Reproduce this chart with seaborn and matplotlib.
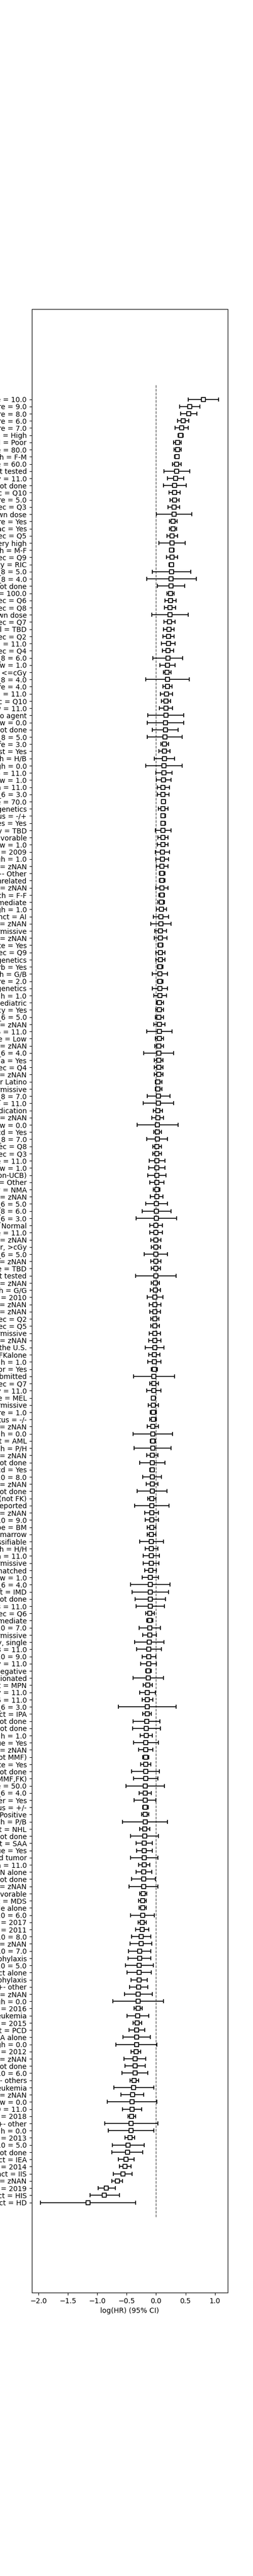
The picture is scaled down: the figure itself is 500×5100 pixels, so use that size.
import numpy as np
import pandas as pd
import matplotlib
matplotlib.use("Agg")
import matplotlib.pyplot as plt
import seaborn as sns

# Cox model coefficients, listed top to bottom as they appear in the chart
labels = [
    "comorbidity_score = 10.0", "comorbidity_score = 9.0", "comorbidity_score = 8.0",
    "comorbidity_score = 6.0", "comorbidity_score = 7.0", "dri_score = High",
    "cyto_score_detail = Poor", "karnofsky_score = 80.0", "sex_match = F-M",
    "karnofsky_score = 60.0", "cyto_score = Not tested", "hla_match_any = 11.0",
    "diabetes = Not done", "age_at_hct_dec = Q10",
    # ---
    "comorbidity_score = 5.0", "donor_age_dec = Q3", "tbi_status = TBI +- Other, -cGy, unknown dose",
    "pulm_severe = Yes", "cardiac = Yes", "donor_age_dec = Q5", "dri_score = Very high",
    "sex_match = M-F", "donor_age_dec = Q9", "conditioning_intensity = RIC",
    "hla_high_res_8 = 5.0", "hla_low_res_8 = 4.0", "arrhythmia = Not done",
    "karnofsky_score = 100.0", "donor_age_dec = Q6", "donor_age_dec = Q8",
    "tbi_status = TBI +- Other, unknown dose", "donor_age_dec = Q7", "cyto_score_detail = TBD",
    "donor_age_dec = Q2", "hla_match_c_high = 11.0", "donor_age_dec = Q4",
    "hla_high_res_8 = 6.0", "hla_match_c_low = 1.0", "tbi_status = TBI +- Other, <=cGy",
    "hla_high_res_8 = 4.0",
    # ---
    "comorbidity_score = 4.0", "hla_match_a_high = 11.0", "donor_age_dec = Q10",
    "hla_match_b_low = 11.0", "gvhd_proph = Parent Q = yes, but no agent", "hla_match_a_low = 0.0",
    "pulm_severe = Not done", "hla_low_res_8 = 5.0", "comorbidity_score = 3.0",
    "vent_hist = Yes", "tce_imm_match = H/B", "hla_match_dqb1_high = 0.0",
    "hla_nmdp_6 = 11.0", "hla_match_drb1_low = 1.0", "hla_match_drb1_high = 11.0",
    "hla_low_res_6 = 3.0", "karnofsky_score = 70.0", "dri_score = TBD cytogenetics",
    "cmv_status = -/+", "diabetes = Yes", "conditioning_intensity = TBD",
    "cyto_score = Favorable", "hla_match_dqb1_low = 1.0", "year_hct = 2009",
    "hla_match_b_high = 1.0", "cyto_score = zNAN",
    # ---
    "tbi_status = TBI + Cy +- Other", "donor_related = Unrelated", "hla_high_res_10 = zNAN",
    "sex_match = F-F", "cyto_score_detail = Intermediate", "hla_match_drb1_high = 1.0",
    "prim_disease_hct = AI", "tce_match = zNAN", "tce_match = GvH non-permissive",
    "hla_low_res_8 = zNAN", "hepatic_moderate = Yes", "age_at_hct_dec = Q9",
    "dri_score = High - TED AML case <missing cytogenetics", "psych_disturb = Yes",
    "tce_imm_match = G/B", "comorbidity_score = 2.0",
    "dri_score = Intermediate - TED AML case <missing cytogenetics", "hla_match_dqb1_high = 1.0",
    "dri_score = N/A - pediatric", "pregnancy = Yes", "hla_low_res_6 = 5.0",
    "hla_low_res_6 = zNAN", "hla_high_res_6 = 11.0", "dri_score = Low",
    "hla_nmdp_6 = zNAN", "hla_high_res_6 = 4.0",
    # ---
    "arrhythmia = Yes", "age_at_hct_dec = Q4", "tce_imm_match = zNAN",
    "ethnicity = Hispanic or Latino", "tce_div_match = HvG non-permissive", "hla_high_res_8 = 7.0",
    "hla_nmdp_6 = 11.0", "dri_score = N/A - non-malignant indication", "cmv_status = zNAN",
    "hla_match_c_low = 0.0", "in_vivo_tcd = Yes", "hla_low_res_8 = 7.0",
    "age_at_hct_dec = Q8", "age_at_hct_dec = Q3", "hla_score = 11.0",
    "hla_match_a_low = 1.0", "donor_related = Multiple donor (non-UCB)", "cyto_score = Other",
    "conditioning_intensity = NMA", "hla_match_c_high = zNAN", "hla_nmdp_6 = 5.0",
    "hla_low_res_8 = 6.0", "hla_nmdp_6 = 3.0", "cyto_score = Normal",
    "comorbidity_score = 11.0", "hla_match_a_high = zNAN",
    # ---
    "tbi_status = TBI +- Other, >cGy", "hla_high_res_6 = 5.0", "hla_match_b_high = zNAN",
    "cyto_score = TBD", "cyto_score_detail = Not tested", "hla_match_b_low = zNAN",
    "tce_imm_match = G/G", "year_hct = 2010", "hla_match_drb1_low = zNAN",
    "hla_match_dqb1_low = zNAN", "age_at_hct_dec = Q2", "age_at_hct_dec = Q5",
    "tce_div_match = GvH non-permissive", "hla_match_drb1_high = zNAN",
    "ethnicity = Non-resident of the U.S.", "gvhd_proph = FKalone", "hla_match_a_high = 1.0",
    "prior_tumor = Yes", "conditioning_intensity = N/A, F(pre-TED) not submitted",
    "age_at_hct_dec = Q7", "hla_match_any = 11.0", "melphalan_dose = MEL",
    "tce_div_match = Bi-directional non-permissive", "comorbidity_score = 1.0",
    "cmv_status = -/-", "hla_match_c_low = zNAN",
    # ---
    "hla_match_c_high = 0.0", "prim_disease_hct = AML", "tce_imm_match = P/H",
    "hla_match_a_low = zNAN", "cardiac = Not done", "graft_tcd = Yes",
    "hla_high_res_10 = 8.0", "hla_low_res_10 = zNAN", "renal_issue = Not done",
    "gvhd_proph = CSA + MMF +- others(not FK)", "conditioning_intensity = No drugs reported",
    "hla_high_res_6 = zNAN", "hla_low_res_10 = 9.0", "prod_type = BM",
    "graft_type = Bone marrow", "dri_score = N/A - disease not classifiable",
    "tce_imm_match = H/H", "hla_match_dqb1_high = 11.0", "tce_match = HvG non-permissive",
    "tce_match = Fully matched", "hla_match_b_low = 1.0", "hla_low_res_6 = 4.0",
    "prim_disease_hct = IMD", "hepatic_mild = Not done", "hla_high_res_8 = 11.0",
    "age_at_hct_dec = Q6",
    # ---
    "cyto_score = Intermediate", "hla_high_res_10 = 7.0", "tce_div_match = HvG non-permissive",
    "tbi_status = TBI +- Other, -cGy, single", "hla_low_res_8 = 11.0", "hla_high_res_10 = 9.0",
    "hla_match_qty = 11.0", "mrd_hct = Negative", "tbi_status = TBI +- Other, -cGy, fractionated",
    "prim_disease_hct = MPN", "hla_match_any = 11.0", "hla_low_res_6 = 11.0",
    "hla_high_res_6 = 3.0", "prim_disease_hct = IPA", "obesity = Not done",
    "psych_disturb = Not done", "hla_match_c_high = 1.0", "renal_issue = Yes",
    "race_group = zNAN", "gvhd_proph = FK+ MTX +- others(not MMF)", "pulm_moderate = Yes",
    "prior_tumor = Not done", "gvhd_proph = CSA + MTX +- others(not MMF,FK)",
    "karnofsky_score = 50.0", "hla_nmdp_6 = 4.0", "peptic_ulcer = Yes",
    # ---
    "cmv_status = +/-", "mrd_hct = Positive", "tce_imm_match = P/B",
    "prim_disease_hct = NHL", "rheum_issue = Not done", "prim_disease_hct = SAA",
    "rheum_issue = Yes", "prim_disease_hct = Solid tumor", "donor_age_bin = 11.0",
    "gvhd_proph = TDEPLETION alone", "hepatic_severe = Not done", "hla_high_res_8 = zNAN",
    "cyto_score_detail = Favorable", "prim_disease_hct = MDS", "gvhd_proph = Cyclophosphamide alone",
    "hla_high_res_10 = 6.0", "year_hct = 2017", "year_hct = 2011",
    "hla_low_res_10 = 8.0", "donor_age_dec = zNAN", "hla_low_res_10 = 7.0",
    "gvhd_proph = No GvHD Prophylaxis", "hla_high_res_10 = 5.0", "gvhd_proph = CDselect alone",
    "gvhd_proph = Other GVHD Prophylaxis", "gvhd_proph = TDEPLETION +- other",
    # ---
    "age_at_hct_dec = zNAN", "hla_match_b_high = 0.0", "year_hct = 2016",
    "prim_disease_hct = Other leukemia", "year_hct = 2015", "prim_disease_hct = PCD",
    "gvhd_proph = CSA alone", "hla_match_drb1_high = 0.0", "year_hct = 2012",
    "tce_div_match = zNAN", "peptic_ulcer = Not done", "hla_low_res_10 = 6.0",
    "gvhd_proph = Cyclophosphamide +- others", "prim_disease_hct = Other acute leukemia",
    "tce_div = zNAN", "hla_match_b_low = 0.0", "hla_low_res_10 = 11.0",
    "year_hct = 2018", "gvhd_proph = CDselect +- other", "hla_match_a_high = 0.0",
    "year_hct = 2013", "hla_low_res_10 = 5.0", "diabetes_hx = Not done",
    "prim_disease_hct = IEA", "year_hct = 2014", "prim_disease_hct = IIS",
    # ---
    "donor_age_dec = zNAN", "year_hct = 2019", "prim_disease_hct = HIS", "prim_disease_hct = HD",
]

coef = [
    0.806, 0.574, 0.553, 0.462, 0.433, 0.416, 0.364, 0.367, 0.356, 0.353, 0.347, 0.330, 0.315, 0.313,
    0.313, 0.304, 0.304, 0.290, 0.287, 0.270, 0.270, 0.267, 0.270, 0.261, 0.261, 0.258, 0.252, 0.244,
    0.244, 0.235, 0.235, 0.227, 0.221, 0.212, 0.209, 0.201, 0.201, 0.195, 0.189, 0.192,
    0.192, 0.175, 0.166, 0.166, 0.166, 0.158, 0.158, 0.149, 0.141, 0.141, 0.141, 0.132, 0.132, 0.123,
    0.120, 0.120, 0.123, 0.115, 0.115, 0.115, 0.115, 0.112, 0.112, 0.106, 0.106, 0.103,
    0.103, 0.103, 0.098, 0.098, 0.089, 0.089, 0.080, 0.080, 0.072, 0.072, 0.072, 0.069, 0.069, 0.063,
    0.063, 0.063, 0.063, 0.063, 0.054, 0.054, 0.049, 0.054, 0.054, 0.052, 0.046, 0.046,
    0.046, 0.046, 0.046, 0.034, 0.034, 0.037, 0.037, 0.029, 0.029, 0.020, 0.020, 0.020, 0.017, 0.017,
    0.011, 0.011, 0.011, 0.011, 0.011, 0.011, 0.003, 0.003, 0.003, -0.006, -0.006, -0.006,
    -0.006, -0.006, -0.006, -0.006, -0.006, -0.014, -0.014, -0.023, -0.023, -0.023, -0.023, -0.023,
    -0.023, -0.023, -0.023, -0.032, -0.032, -0.032, -0.040, -0.040, -0.040, -0.049, -0.049, -0.049,
    -0.049, -0.057,
    -0.057, -0.057, -0.057, -0.066, -0.066, -0.066, -0.066, -0.066, -0.066, -0.075, -0.075, -0.075,
    -0.075, -0.075, -0.083, -0.083, -0.083, -0.083, -0.083, -0.092, -0.100, -0.100, -0.100, -0.100,
    -0.100, -0.109,
    -0.109, -0.109, -0.109, -0.118, -0.126, -0.126, -0.126, -0.135, -0.135, -0.143, -0.152, -0.152,
    -0.152, -0.152, -0.161, -0.169, -0.169, -0.178, -0.178, -0.178, -0.178, -0.178, -0.178, -0.186,
    -0.186, -0.186,
    -0.186, -0.186, -0.186, -0.195, -0.195, -0.204, -0.204, -0.204, -0.204, -0.212, -0.212, -0.212,
    -0.221, -0.229, -0.229, -0.229, -0.238, -0.238, -0.255, -0.255, -0.281, -0.281, -0.290, -0.290,
    -0.290, -0.298,
    -0.307, -0.307, -0.307, -0.315, -0.324, -0.333, -0.333, -0.333, -0.341, -0.358, -0.358, -0.358,
    -0.376, -0.384, -0.401, -0.410, -0.410, -0.419, -0.427, -0.427, -0.445, -0.479, -0.488, -0.513,
    -0.531, -0.565,
    -0.660, -0.849, -0.880, -1.159,
]

lower = [
    0.545, 0.399, 0.419, 0.364, 0.321, 0.373, 0.295, 0.304, 0.318, 0.278, 0.132, 0.192, 0.123, 0.218,
    0.235, 0.206, 0.006, 0.227, 0.227, 0.184, 0.046, 0.229, 0.175, 0.218, -0.063, -0.158, 0.020, 0.184,
    0.149, 0.141, -0.072, 0.132, 0.123, 0.115, 0.089, 0.106, -0.054, 0.066, 0.126, -0.178,
    0.115, 0.072, 0.089, 0.055, -0.141, -0.149, -0.063, -0.149, 0.083, 0.046, -0.032, -0.178, -0.006,
    0.003, 0.020, 0.020, 0.089, 0.037, 0.083, 0.080, -0.014, 0.029, 0.020, -0.014, -0.006, 0.003,
    0.054, 0.054, -0.006, 0.049, 0.032, 0.003, -0.049, -0.092, -0.023, -0.032, 0.032, -0.006, -0.006,
    0.020, -0.066, 0.020, -0.066, -0.040, 0.003, -0.006, -0.014, -0.040, -0.161, -0.014, -0.023, -0.212,
    -0.032, -0.032, -0.032, -0.014, -0.014, -0.149, -0.218, -0.049, -0.075, -0.324, -0.040, -0.161,
    -0.057, -0.057, -0.118, -0.126, -0.143, -0.109, -0.049, -0.100, -0.178, -0.235, -0.341, -0.109,
    -0.109, -0.092,
    -0.083, -0.204, -0.092, -0.083, -0.350, -0.083, -0.100, -0.152, -0.118, -0.109, -0.092, -0.092,
    -0.118, -0.126, -0.186, -0.126, -0.143, -0.080, -0.381, -0.109, -0.161, -0.075, -0.135, -0.100,
    -0.109, -0.152,
    -0.390, -0.100, -0.376, -0.161, -0.278, -0.106, -0.229, -0.169, -0.324, -0.141, -0.367, -0.195,
    -0.186, -0.152, -0.152, -0.278, -0.186, -0.221, -0.221, -0.195, -0.238, -0.436, -0.410, -0.358,
    -0.341, -0.178,
    -0.158, -0.290, -0.229, -0.367, -0.333, -0.238, -0.264, -0.178, -0.393, -0.221, -0.281, -0.238,
    -0.642, -0.229, -0.393, -0.401, -0.272, -0.384, -0.298, -0.224, -0.264, -0.419, -0.384, -0.513,
    -0.290, -0.376,
    -0.229, -0.247, -0.574, -0.281, -0.436, -0.341, -0.333, -0.436, -0.298, -0.341, -0.419, -0.462,
    -0.278, -0.298, -0.290, -0.436, -0.307, -0.350, -0.419, -0.445, -0.470, -0.479, -0.522, -0.496,
    -0.427, -0.453,
    -0.539, -0.737, -0.376, -0.496, -0.393, -0.462, -0.565, -0.685, -0.427, -0.548, -0.531, -0.582,
    -0.445, -0.717, -0.599, -0.832, -0.574, -0.479, -0.872, -0.814, -0.531, -0.746, -0.754, -0.642,
    -0.625, -0.728,
    -0.754, -0.987, -1.124, -1.967,
]

upper = [
    1.067, 0.749, 0.694, 0.556, 0.548, 0.459, 0.427, 0.427, 0.396, 0.427, 0.576, 0.470, 0.516, 0.410,
    0.393, 0.404, 0.608, 0.358, 0.350, 0.367, 0.496, 0.310, 0.367, 0.301, 0.588, 0.685, 0.488, 0.307,
    0.341, 0.333, 0.548, 0.324, 0.307, 0.307, 0.324, 0.298, 0.453, 0.324, 0.255, 0.565,
    0.272, 0.281, 0.247, 0.281, 0.470, 0.470, 0.376, 0.445, 0.212, 0.238, 0.313, 0.445, 0.272, 0.255,
    0.229, 0.221, 0.161, 0.204, 0.158, 0.158, 0.255, 0.204, 0.204, 0.229, 0.212, 0.204,
    0.149, 0.149, 0.204, 0.143, 0.141, 0.175, 0.212, 0.255, 0.175, 0.184, 0.115, 0.149, 0.149, 0.115,
    0.195, 0.115, 0.195, 0.175, 0.126, 0.126, 0.126, 0.152, 0.272, 0.126, 0.126, 0.298,
    0.118, 0.118, 0.118, 0.100, 0.100, 0.238, 0.295, 0.109, 0.126, 0.376, 0.092, 0.195, 0.092, 0.092,
    0.152, 0.152, 0.169, 0.135, 0.063, 0.118, 0.195, 0.250, 0.350, 0.109, 0.109, 0.083,
    0.075, 0.195, 0.083, 0.075, 0.336, 0.057, 0.075, 0.118, 0.083, 0.075, 0.049, 0.057, 0.075, 0.083,
    0.135, 0.066, 0.083, 0.023, 0.313, 0.040, 0.083, -0.011, 0.040, 0.003, 0.006, 0.040,
    0.281, -0.011, 0.255, 0.032, 0.152, -0.029, 0.092, 0.032, 0.186, -0.003, 0.221, 0.040, 0.040,
    -0.003, -0.003, 0.126, 0.032, 0.057, 0.049, 0.006, 0.040, 0.238, 0.212, 0.161, 0.143, -0.029,
    -0.054, 0.075, 0.006, 0.135, 0.092, -0.003, 0.006, -0.083, 0.126, -0.063, -0.009, -0.054, 0.336,
    -0.080, 0.066, 0.075, -0.063, 0.040, -0.054, -0.123, -0.089, 0.057, 0.032, 0.143, -0.080, -0.003,
    -0.135, -0.123, 0.195, -0.106, 0.040, -0.063, -0.063, 0.032, -0.106, -0.072, -0.011, 0.032, -0.158,
    -0.166, -0.166, -0.029, -0.166, -0.123, -0.089, -0.072, -0.089, -0.089, -0.046, -0.080, -0.149,
    -0.141,
    -0.063, 0.126, -0.235, -0.126, -0.244, -0.195, -0.098, 0.011, -0.261, -0.175, -0.184, -0.141,
    -0.295, -0.037, -0.209, 0.014, -0.244, -0.347, 0.032, -0.037, -0.364, -0.201, -0.227, -0.373,
    -0.424, -0.407,
    -0.571, -0.697, -0.628, -0.353,
]

assert len(labels) == len(coef) == len(lower) == len(upper), (len(labels), len(coef), len(lower), len(upper))

df = pd.DataFrame({"label": labels, "coef": coef, "lower": lower, "upper": upper})
# lowest coefficient sits at the bottom
df = df.iloc[::-1].reset_index(drop=True)
df["pos"] = np.arange(len(df))

fig = plt.figure(figsize=(5, 51), dpi=100)
ax = fig.add_subplot(111)

xerr = np.vstack([(df["coef"] - df["lower"]).clip(lower=0),
                  (df["upper"] - df["coef"]).clip(lower=0)])
ax.errorbar(df["coef"], df["pos"], xerr=xerr, fmt="none", ecolor="k",
            elinewidth=1.25, capsize=3, capthick=1.25)
sns.scatterplot(data=df, x="coef", y="pos", marker="s", s=36, color="white",
                edgecolor="k", linewidth=1.25, zorder=3, ax=ax)

best_ylim = ax.get_ylim()
ax.vlines(0, -2, len(df) + 1, linestyles="dashed", linewidths=1, alpha=0.65, color="k")
ax.set_ylim(best_ylim)

ax.set_yticks(df["pos"])
ax.set_yticklabels(df["label"])
ax.set_xlabel("log(HR) (95% CI)")
ax.set_ylabel("")

fig.savefig("out.png", dpi=100)
